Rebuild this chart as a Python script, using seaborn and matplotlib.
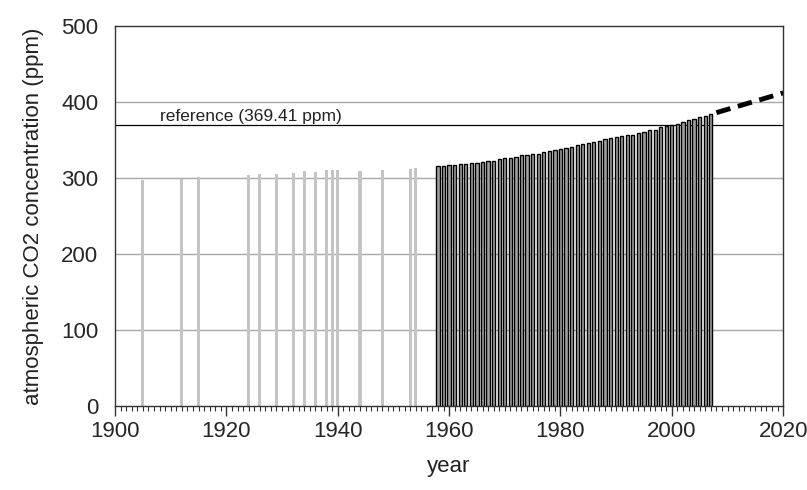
import numpy as np
import pandas as pd
import matplotlib
matplotlib.use("Agg")
import matplotlib.pyplot as plt
from matplotlib.ticker import MultipleLocator, FormatStrFormatter
import seaborn as sns

# ice core values (grey bars)
ice_years = [1905, 1912, 1915, 1924, 1926, 1929, 1932, 1934, 1936, 1938, 1939, 1940, 1944, 1948, 1953, 1954]
ice_ppm = [297, 299, 301, 304, 305, 305, 307, 309, 308, 310, 310, 310, 309, 310, 312, 313]

# measured annual means (black bars)
mlo_years = list(range(1958, 2008))
mlo_ppm = [315.3, 316.0, 316.9, 317.6, 318.5, 319.0, 319.6, 320.0, 321.4, 322.2,
           323.0, 324.6, 325.7, 326.3, 327.5, 329.7, 330.2, 331.1, 332.0, 333.8,
           335.4, 336.8, 338.7, 340.1, 341.4, 343.0, 344.6, 346.0, 347.4, 349.2,
           351.6, 353.1, 354.4, 355.6, 356.5, 357.1, 358.8, 360.8, 362.6, 363.7,
           366.7, 368.4, 369.6, 371.1, 373.2, 375.8, 377.5, 379.8, 381.9, 383.8]

# projection
proj_years = [2008, 2020]
proj_ppm = [386, 412]

reference_ppm = 369.41

sns.set_style("white")
plt.rcParams["font.family"] = ["Liberation Sans", "DejaVu Sans"]

fig = plt.figure(figsize=(8.07, 4.90), dpi=100)
ax = fig.add_axes([0.1425, 0.1714, 0.828, 0.7755])

for y in [100, 200, 300, 400]:
    ax.axhline(y, color="#a8a8a8", lw=1.0, zorder=0)

df_ice = pd.DataFrame({"year": ice_years, "ppm": ice_ppm})
df_mlo = pd.DataFrame({"year": mlo_years, "ppm": mlo_ppm})

sns.barplot(data=df_ice, x="year", y="ppm", native_scale=True, color="#c4c4c4",
            saturation=1, width=0.55, linewidth=0, ax=ax, zorder=2)
sns.barplot(data=df_mlo, x="year", y="ppm", native_scale=True, color="#a0a0a0",
            saturation=1, width=0.58, edgecolor="black", linewidth=1.0, ax=ax, zorder=2)
sns.lineplot(x=proj_years, y=proj_ppm, color="black", lw=3.5,
             linestyle=(0, (3, 1.6)), ax=ax, zorder=3)

ax.axhline(reference_ppm, color="black", lw=0.9, zorder=1)
ax.text(1908, reference_ppm + 1.5, "reference (369.41 ppm)", fontsize=12.5,
        color="#222222", va="bottom", ha="left")

ax.set_xlim(1900, 2020)
ax.set_ylim(0, 500)
ax.xaxis.set_major_locator(MultipleLocator(20))
ax.xaxis.set_minor_locator(MultipleLocator(1))
ax.yaxis.set_major_locator(MultipleLocator(100))
ax.xaxis.set_major_formatter(FormatStrFormatter("%d"))

ax.tick_params(axis="x", which="major", direction="out", length=7, width=1,
               color="#333333", labelsize=16, pad=4, bottom=True)
ax.tick_params(axis="x", which="minor", direction="out", length=3.5, width=0.8,
               color="#333333", bottom=True)
ax.tick_params(axis="y", which="major", length=0, labelsize=16, pad=12)

for side in ["left", "bottom", "top", "right"]:
    ax.spines[side].set_color("#333333")
    ax.spines[side].set_linewidth(1.0)

ax.set_xlabel("year", fontsize=16, labelpad=10, color="#222222")
ax.set_ylabel("atmospheric CO2 concentration (ppm)", fontsize=16, labelpad=12, color="#222222")

fig.savefig("out.png", dpi=100)
